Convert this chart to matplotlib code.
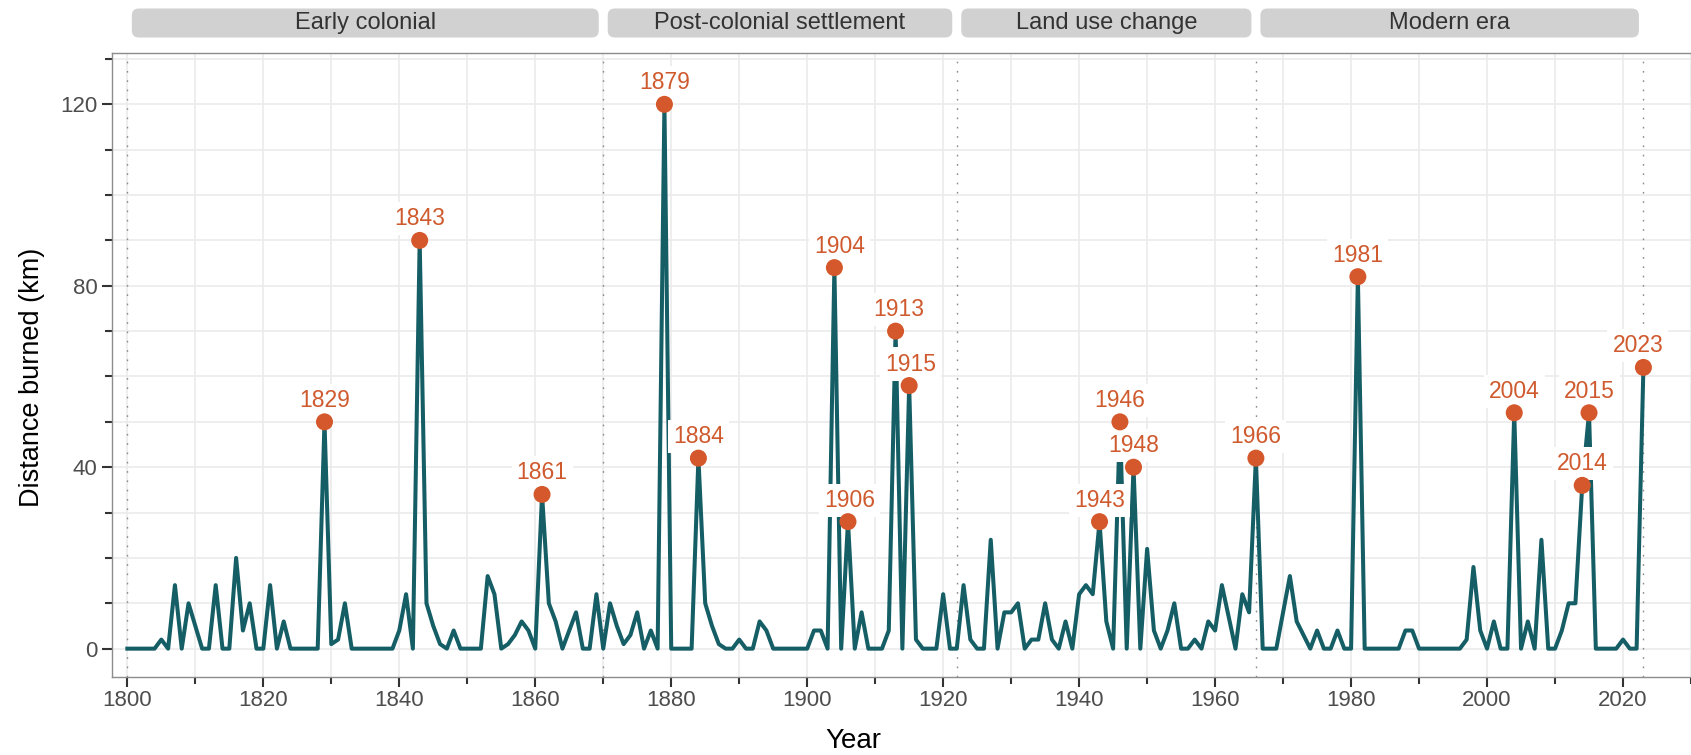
import matplotlib
matplotlib.use("Agg")
import matplotlib.pyplot as plt
from matplotlib.patches import FancyBboxPatch
from matplotlib.transforms import IdentityTransform

# ---------------- data ----------------
years = list(range(1800, 2024))
distance_km = [
    0, 0, 0, 0, 0, 2, 0, 14, 0, 10,        # 1800s
    5, 0, 0, 14, 0, 0, 20, 4, 10, 0,       # 1810s
    0, 14, 0, 6, 0, 0, 0, 0, 0, 50,        # 1820s
    1, 2, 10, 0, 0, 0, 0, 0, 0, 0,         # 1830s
    4, 12, 0, 90, 10, 5, 1, 0, 4, 0,       # 1840s
    0, 0, 0, 16, 12, 0, 1, 3, 6, 4,        # 1850s
    0, 34, 10, 6, 0, 4, 8, 0, 0, 12,       # 1860s
    0, 10, 5, 1, 3, 8, 0, 4, 0, 120,       # 1870s
    0, 0, 0, 0, 42, 10, 5, 1, 0, 0,        # 1880s
    2, 0, 0, 6, 4, 0, 0, 0, 0, 0,          # 1890s
    0, 4, 4, 0, 84, 0, 28, 0, 8, 0,        # 1900s
    0, 0, 4, 70, 0, 58, 2, 0, 0, 0,        # 1910s
    12, 0, 0, 14, 2, 0, 0, 24, 0, 8,       # 1920s
    8, 10, 0, 2, 2, 10, 2, 0, 6, 0,        # 1930s
    12, 14, 12, 28, 6, 0, 50, 0, 40, 0,    # 1940s
    22, 4, 0, 4, 10, 0, 0, 2, 0, 6,        # 1950s
    4, 14, 7, 0, 12, 8, 42, 0, 0, 0,       # 1960s
    8, 16, 6, 3, 0, 4, 0, 0, 4, 0,         # 1970s
    0, 82, 0, 0, 0, 0, 0, 0, 4, 4,         # 1980s
    0, 0, 0, 0, 0, 0, 0, 2, 18, 4,         # 1990s
    0, 6, 0, 0, 52, 0, 6, 0, 24, 0,        # 2000s
    0, 4, 10, 10, 36, 52, 0, 0, 0, 0,      # 2010s
    2, 0, 0, 62,                           # 2020s
]
labelled_years = [1829, 1843, 1861, 1879, 1884, 1904, 1906, 1913, 1915,
                  1943, 1946, 1948, 1966, 1981, 2004, 2014, 2015, 2023]
period_names = ["Early colonial", "Post-colonial settlement",
                "Land use change", "Modern era"]
period_breaks = [1800, 1870, 1922, 1966, 2023]

x_tick_major = list(range(1800, 2021, 20))
x_tick_minor = list(range(1810, 2031, 20))
y_tick_major = [0, 40, 80, 120]
y_tick_minor = [10, 20, 30, 50, 60, 70, 90, 100, 110, 130]

# ---------------- style ----------------
LINE_C = "#155e66"
PT_C = "#d4582b"
LAB_C = "#cf5a2e"
GRID_C = "#ebebeb"
plt.rcParams["font.family"] = ["Liberation Sans", "DejaVu Sans"]

W, H = 1691, 755
fig = plt.figure(figsize=(W / 100, H / 100), dpi=100)
ax_left, ax_bottom, ax_top = 111.7, 78.0, 701.7
ax = fig.add_axes([ax_left / W, ax_bottom / H, (W - ax_left) / W,
                   (ax_top - ax_bottom) / H])
ax.set_xlim(1797.7, 2028.5)
ax.set_ylim(-6.25, 131.25)

ax.set_xticks(x_tick_major)
ax.set_xticks(x_tick_minor, minor=True)
ax.set_yticks(y_tick_major)
ax.set_yticks(y_tick_minor, minor=True)
ax.grid(which="both", color=GRID_C, lw=1.2)
ax.set_axisbelow(True)
ax.tick_params(which="major", length=7.2, width=1.5, color="#333333",
               labelsize=16, labelcolor="#4d4d4d")
ax.tick_params(which="minor", length=5, width=1.5, color="#333333")
ax.tick_params(axis="x", which="major", pad=2)
ax.tick_params(axis="y", which="major", pad=3)
for s in ["left", "bottom", "top"]:
    ax.spines[s].set_color("#8c8c8c")
    ax.spines[s].set_linewidth(1.0)
ax.spines["right"].set_visible(False)

for b in period_breaks:
    ax.axvline(b, color="#8a8a8a", lw=1.0, linestyle=(0, (1.2, 5.5)), zorder=1)

ax.plot(years, distance_km, color=LINE_C, lw=2.9, zorder=2,
        solid_joinstyle="round")

lab_vals = [distance_km[years.index(y)] for y in labelled_years]
ax.scatter(labelled_years, lab_vals, s=150, color=PT_C, zorder=6,
           edgecolors="none")

label_dx = {1904: 4, 1906: 1, 1913: 2, 1915: 1, 2023: -4}
for y, v in zip(labelled_years, lab_vals):
    ax.annotate(str(y), (y, v), xytext=(label_dx.get(y, 0), 15.5),
                textcoords="offset points", ha="center", va="center",
                fontsize=16.5, color=LAB_C, zorder=5,
                bbox=dict(boxstyle="square,pad=0.22", fc="white", ec="none"),
                annotation_clip=False)

# strips above panel (pixel coordinates)
fig.canvas.draw()
strip_y0, strip_y1 = H - 37.5, H - 8.5
for name, a, b in zip(period_names, period_breaks[:-1], period_breaks[1:]):
    xa = ax.transData.transform((a, 0))[0] + 4.5
    xb = ax.transData.transform((b, 0))[0] - 4.5
    p = FancyBboxPatch((xa, strip_y0), xb - xa, strip_y1 - strip_y0,
                       boxstyle="round,pad=0,rounding_size=7",
                       transform=IdentityTransform(), fc="#d1d1d1",
                       ec="none", clip_on=False)
    fig.add_artist(p)
    fig.text(((xa + xb) / 2) / W, ((strip_y0 + strip_y1) / 2) / H, name,
             ha="center", va="center", fontsize=17, color="#333333")

fig.text(853 / W, (H - 741) / H, "Year", ha="center", va="center",
         fontsize=20, color="black")
fig.text(32 / W, (H - 377) / H, "Distance burned (km)", ha="center",
         va="center", rotation=90, fontsize=19.5, color="black")

fig.savefig("out.png", dpi=100)
